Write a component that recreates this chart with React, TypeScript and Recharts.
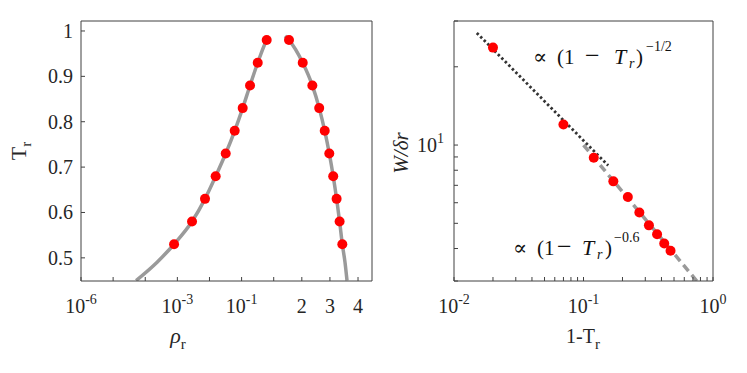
import React from 'react'
import { ComposedChart, Line, Scatter, XAxis, YAxis, Customized } from 'recharts'

// left panel: coexistence curve T_r vs rho_r (markers + gray curve)
const pointT = [0.98, 0.93, 0.88, 0.83, 0.78, 0.73, 0.68, 0.63, 0.58, 0.53]
const gasRho = [0.605, 0.318, 0.183, 0.108, 0.061, 0.032, 0.0156, 0.00726, 0.00286, 0.00079]
const liquidRho = [1.544, 2.032, 2.374, 2.619, 2.815, 2.978, 3.117, 3.238, 3.345, 3.441]

const gasCurveT = [0.45, 0.49, 0.53, 0.58, 0.63, 0.68, 0.73, 0.78, 0.83, 0.88, 0.93, 0.98, 0.985]
const gasCurveRho = [5.2e-5, 2.3e-4, 0.00079, 0.00286, 0.00726, 0.0156, 0.032, 0.061, 0.108, 0.183, 0.318, 0.605, 0.665]
const liquidCurveT = [0.989, 0.98, 0.93, 0.88, 0.83, 0.78, 0.73, 0.68, 0.63, 0.58, 0.53, 0.49, 0.45]
const liquidCurveRho = [1.402, 1.544, 2.032, 2.374, 2.619, 2.815, 2.978, 3.117, 3.238, 3.345, 3.441, 3.537, 3.608]

const leftYTicks = [0.5, 0.6, 0.7, 0.8, 0.9, 1]
const leftXTickRho = [1e-6, 1e-5, 1e-4, 1e-3, 1e-2, 1e-1, 1, 2, 3, 4]

// right panel: W/dr vs 1-T_r, log-log
const oneMinusT = [0.02, 0.07, 0.12, 0.17, 0.22, 0.27, 0.32, 0.37, 0.42, 0.47]
const widthW = [23.7, 12.0, 8.94, 7.25, 6.31, 5.5, 4.91, 4.54, 4.18, 3.92]
const halfFitX = [0.015, 0.155]
const halfFitY = [27.0, 8.35]
const sixFitX = [0.1, 0.75]
const sixFitY = [10.0, 3.0]

const rightXTicks = [0.01, 0.02, 0.03, 0.04, 0.05, 0.06, 0.07, 0.08, 0.09, 0.1, 0.2, 0.3, 0.4, 0.5, 0.6, 0.7, 0.8, 0.9, 1]
const rightYTicks = [3, 4, 5, 6, 7, 8, 9, 10, 20, 30]

const FONT = "'Liberation Serif', 'Times New Roman', 'DejaVu Serif', serif"
const AXIS = '#404040'
const TXT = '#262626'

// log below 1, linear (stretched) above 1 -- that's how the original axis is laid out
const toU = (r: number) => (r <= 1 ? Math.log10(r) : (r - 1) * 0.875)

const gasCurve = gasCurveRho.map((r, i) => ({ u: toU(r), T: gasCurveT[i] }))
const liquidCurve = liquidCurveRho.map((r, i) => ({ u: toU(r), T: liquidCurveT[i] }))
const gasPts = gasRho.map((r, i) => ({ u: toU(r), T: pointT[i] }))
const liquidPts = liquidRho.map((r, i) => ({ u: toU(r), T: pointT[i] }))
const leftXTicks = leftXTickRho.map(toU)

const widthPts = oneMinusT.map((d, i) => ({ d, w: widthW[i] }))
const halfFit = halfFitX.map((d, i) => ({ d, w: halfFitY[i] }))
const sixFit = sixFitX.map((d, i) => ({ d, w: sixFitY[i] }))

const leftXLabel = (u: number): [string, string] | null => {
  const pairs: [number, [string, string]][] = [
    [toU(1e-6), ['10', '-6']],
    [toU(1e-3), ['10', '-3']],
    [toU(1e-1), ['10', '-1']],
    [toU(2), ['2', '']],
    [toU(3), ['3', '']],
    [toU(4), ['4', '']],
  ]
  const hit = pairs.find(p => Math.abs(p[0] - u) < 1e-6)
  return hit ? hit[1] : null
}
const rightXLabel = (v: number): [string, string] | null => {
  if (Math.abs(v - 0.01) < 1e-9) return ['10', '-2']
  if (Math.abs(v - 0.1) < 1e-9) return ['10', '-1']
  if (Math.abs(v - 1) < 1e-9) return ['10', '0']
  return null
}
const rightYLabel = (v: number): [string, string] | null => (v === 10 ? ['10', '1'] : null)
const leftYLabel = (v: number): [string, string] | null => [String(v), '']

function makeTick(labelFor: (v: number) => [string, string] | null, anchor: 'middle' | 'end', dy: number) {
  return (props: any) => {
    const lab = labelFor(props.payload.value)
    if (!lab) return <g />
    return (
      <text x={props.x} y={props.y + dy} textAnchor={anchor} style={{ fontFamily: FONT }} fontSize={20} fill={TXT}>
        {lab[0]}
        {lab[1] ? (
          <tspan dy={-9} fontSize={14}>
            {lab[1]}
          </tspan>
        ) : null}
      </text>
    )
  }
}

const dot = (p: any) => <circle cx={p.cx} cy={p.cy} r={5} fill="#ff0000" />

function LeftTitles() {
  return (
    <g style={{ fontFamily: FONT }} fill={TXT}>
      <text x={26} y={151} transform="rotate(-90, 26, 151)" textAnchor="middle" fontSize={22}>
        T<tspan dy={5} fontSize={15}>r</tspan>
      </text>
      <text x={178} y={343} textAnchor="middle" fontSize={22}>
        <tspan fontStyle="italic">ρ</tspan>
        <tspan dy={6} fontSize={15}>r</tspan>
      </text>
    </g>
  )
}

function RightTitles() {
  return (
    <g style={{ fontFamily: FONT }} fill={TXT}>
      <text x={23} y={153} transform="rotate(-90, 23, 153)" textAnchor="middle" fontSize={21} fontStyle="italic">
        W/δr
      </text>
      <text x={198} y={343} textAnchor="middle" fontSize={20}>
        1-T<tspan dy={6} fontSize={15}>r</tspan>
      </text>
      <text y={64} fontSize={21} fill="#111">
        <tspan x={148}>∝</tspan>
        <tspan x={172}>(1</tspan>
        <tspan x={200} fontSize={26}>−</tspan>
        <tspan x={229} fontSize={22} fontStyle="italic">T</tspan>
        <tspan x={244} dy={4} fontSize={14} fontStyle="italic">r</tspan>
        <tspan x={251} dy={-4}>)</tspan>
        <tspan x={261} dy={-13} fontSize={14}>−1/2</tspan>
      </text>
      <text y={255} fontSize={21} fill="#111">
        <tspan x={128}>∝</tspan>
        <tspan x={152}>(1</tspan>
        <tspan x={172} fontSize={26}>−</tspan>
        <tspan x={197} fontSize={22} fontStyle="italic">T</tspan>
        <tspan x={212} dy={4} fontSize={14} fontStyle="italic">r</tspan>
        <tspan x={220} dy={-4}>)</tspan>
        <tspan x={229} dy={-13} fontSize={14}>−0.6</tspan>
      </text>
    </g>
  )
}

export default function App() {
  return (
    <div style={{ position: 'absolute', left: 0, top: 0, width: 747, height: 373, background: '#fff' }}>
      <div style={{ position: 'absolute', left: 0, top: 0 }}>
        <ComposedChart width={385} height={373} margin={{ top: 1, right: 3, bottom: 22, left: 1 }}>
          <XAxis
            xAxisId="b"
            type="number"
            dataKey="u"
            domain={[-6, 3.06]}
            allowDataOverflow
            ticks={leftXTicks}
            interval={0}
            height={70}
            tickSize={-4}
            tickMargin={8}
            stroke={AXIS}
            tick={makeTick(leftXLabel, 'middle', 28)}
          />
          <XAxis
            xAxisId="t"
            orientation="top"
            type="number"
            domain={[-6, 3.06]}
            allowDataOverflow
            ticks={leftXTicks}
            interval={0}
            height={20}
            tickSize={-4}
            stroke={AXIS}
            tick={false}
          />
          <YAxis
            yAxisId="l"
            type="number"
            dataKey="T"
            domain={[0.449, 1.022]}
            allowDataOverflow
            ticks={leftYTicks}
            interval={0}
            width={80}
            tickSize={-4}
            tickMargin={12}
            stroke={AXIS}
            tick={makeTick(leftYLabel, 'end', 7)}
          />
          <YAxis
            yAxisId="r"
            orientation="right"
            type="number"
            domain={[0.449, 1.022]}
            allowDataOverflow
            ticks={leftYTicks}
            interval={0}
            width={10}
            tickSize={-4}
            stroke={AXIS}
            tick={false}
          />
          <Line data={gasCurve} xAxisId="b" yAxisId="l" dataKey="T" type="monotone" stroke="#9a9a9a" strokeWidth={3.5} dot={false} activeDot={false} isAnimationActive={false} />
          <Line data={liquidCurve} xAxisId="b" yAxisId="l" dataKey="T" type="monotone" stroke="#9a9a9a" strokeWidth={3.5} dot={false} activeDot={false} isAnimationActive={false} />
          <Scatter data={gasPts} xAxisId="b" yAxisId="l" dataKey="T" shape={dot} isAnimationActive={false} />
          <Scatter data={liquidPts} xAxisId="b" yAxisId="l" dataKey="T" shape={dot} isAnimationActive={false} />
          <Customized component={LeftTitles} />
        </ComposedChart>
      </div>
      <div style={{ position: 'absolute', left: 385, top: 0 }}>
        <ComposedChart width={362} height={373} margin={{ top: 1, right: 24, bottom: 22, left: 1 }}>
          <XAxis
            xAxisId="b"
            type="number"
            dataKey="d"
            scale="log"
            domain={[0.01, 1]}
            allowDataOverflow
            ticks={rightXTicks}
            interval={0}
            height={70}
            tickSize={-4}
            tickMargin={8}
            stroke={AXIS}
            tick={makeTick(rightXLabel, 'middle', 28)}
          />
          <XAxis
            xAxisId="t"
            orientation="top"
            type="number"
            scale="log"
            domain={[0.01, 1]}
            allowDataOverflow
            ticks={rightXTicks}
            interval={0}
            height={20}
            tickSize={-4}
            stroke={AXIS}
            tick={false}
          />
          <YAxis
            yAxisId="l"
            type="number"
            dataKey="w"
            scale="log"
            domain={[3, 30]}
            allowDataOverflow
            ticks={rightYTicks}
            interval={0}
            width={68}
            tickSize={-4}
            tickMargin={14}
            stroke={AXIS}
            tick={makeTick(rightYLabel, 'end', 7)}
          />
          <YAxis
            yAxisId="r"
            orientation="right"
            type="number"
            scale="log"
            domain={[3, 30]}
            allowDataOverflow
            ticks={rightYTicks}
            interval={0}
            width={10}
            tickSize={-4}
            stroke={AXIS}
            tick={false}
          />
          <Line data={sixFit} xAxisId="b" yAxisId="l" dataKey="w" type="linear" stroke="#9a9a9a" strokeWidth={3.5} strokeDasharray="8 5" dot={false} activeDot={false} isAnimationActive={false} />
          <Line data={halfFit} xAxisId="b" yAxisId="l" dataKey="w" type="linear" stroke="#333333" strokeWidth={2.8} strokeDasharray="2.5 2.5" dot={false} activeDot={false} isAnimationActive={false} />
          <Scatter data={widthPts} xAxisId="b" yAxisId="l" dataKey="w" shape={dot} isAnimationActive={false} />
          <Customized component={RightTitles} />
        </ComposedChart>
      </div>
    </div>
  )
}
